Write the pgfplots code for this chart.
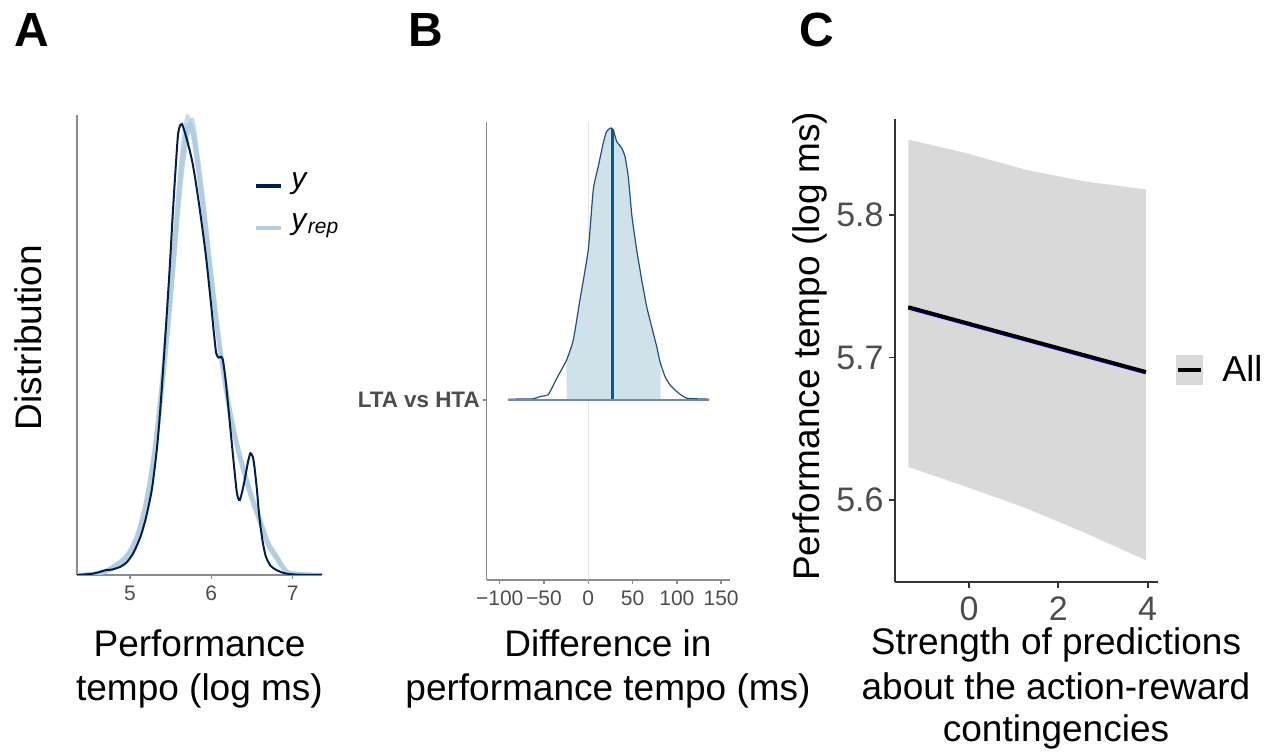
\documentclass[border=0pt]{standalone}
\usepackage{fontspec}
\setmainfont{Liberation Sans}
\usepackage{pgfplots}
\usepackage{pgfplotstable}
\pgfplotsset{compat=1.18}
\definecolor{ydark}{HTML}{011F4B}
\definecolor{yrepc}{HTML}{B3CDE0}
\definecolor{tickgrey}{HTML}{4D4D4D}
\definecolor{axgrey}{HTML}{8C8C8C}
\definecolor{areafill}{HTML}{CFE2EA}
\definecolor{arealine}{HTML}{234F7D}
\definecolor{medline}{HTML}{005B96}
\definecolor{baseln}{HTML}{7388A3}
\definecolor{bandgrey}{HTML}{D9D9D9}
\definecolor{vlinegrey}{HTML}{E6E6E6}
\definecolor{axdark}{HTML}{333333}

\pgfplotstableread{
x y
4.35 0
4.55 0.003
4.65 0.008
4.71 0.011
4.78 0.012
4.88 0.018
4.96 0.028
5.03 0.045
5.08 0.063
5.14 0.09
5.20 0.129
5.27 0.19
5.33 0.277
5.37 0.36
5.41 0.462
5.45 0.57
5.49 0.684
5.52 0.78
5.55 0.869
5.59 0.975
5.62 0.998
5.64 1.0
5.66 0.99
5.69 0.972
5.73 0.945
5.77 0.913
5.81 0.87
5.86 0.809
5.90 0.755
5.94 0.698
6.00 0.595
6.03 0.54
6.06 0.492
6.09 0.482
6.12 0.484
6.14 0.478
6.16 0.455
6.18 0.425
6.21 0.37
6.24 0.314
6.28 0.24
6.31 0.188
6.33 0.17
6.35 0.166
6.38 0.185
6.41 0.211
6.45 0.25
6.48 0.27
6.51 0.262
6.53 0.24
6.56 0.19
6.59 0.129
6.63 0.075
6.67 0.041
6.73 0.02
6.80 0.011
6.88 0.005
6.96 0.002
7.10 0.0005
7.36 0
}\ydens

\pgfplotstableread{
x y
4.35 0
4.55 0.002
4.70 0.008
4.80 0.018
4.90 0.030
5.00 0.050
5.10 0.090
5.20 0.160
5.30 0.270
5.40 0.430
5.50 0.620
5.60 0.840
5.65 0.930
5.70 0.985
5.73 1.000
5.76 0.990
5.80 0.955
5.90 0.820
6.00 0.660
6.10 0.510
6.20 0.390
6.30 0.300
6.40 0.230
6.50 0.170
6.60 0.120
6.70 0.068
6.80 0.040
6.90 0.012
7.00 0.003
7.36 0
}\yrepa

\pgfplotstableread{
x y
4.35 0
4.55 0.003
4.70 0.010
4.80 0.021
4.90 0.034
5.00 0.056
5.10 0.098
5.20 0.170
5.30 0.285
5.40 0.450
5.50 0.650
5.60 0.870
5.65 0.960
5.70 1.015
5.73 1.010
5.76 0.985
5.80 0.940
5.90 0.800
6.00 0.645
6.10 0.500
6.20 0.385
6.30 0.292
6.40 0.222
6.50 0.162
6.60 0.112
6.70 0.062
6.80 0.034
6.90 0.010
7.00 0.002
7.36 0
}\yrepb

\pgfplotstableread{
x y
4.35 0
4.55 0.001
4.70 0.006
4.80 0.015
4.90 0.026
5.00 0.045
5.10 0.082
5.20 0.150
5.30 0.255
5.40 0.410
5.50 0.595
5.60 0.810
5.65 0.900
5.70 0.960
5.76 1.010
5.80 0.980
5.90 0.840
6.00 0.675
6.10 0.525
6.20 0.400
6.30 0.308
6.40 0.238
6.50 0.178
6.60 0.126
6.70 0.074
6.80 0.045
6.90 0.015
7.00 0.004
7.36 0
}\yrepc

\pgfplotstableread{
x y
-90.3 1.0025
-62.1 1.0037
-54.5 1.0123
-45.1 1.0196
-35.7 1.0784
-24.4 1.1471
-16.9 1.2206
-9.4 1.3676
0 1.5515
5.6 1.772
11.3 1.858
16.9 1.9436
20.7 1.9865
25.3 1.9988
28.2 1.9926
32 1.9498
37.7 1.9252
41.4 1.8946
45.1 1.821
48.9 1.6863
50.8 1.6372
54.6 1.5515
60.3 1.4412
65.9 1.3431
71.5 1.2696
77.2 1.1961
80.9 1.1409
86.6 1.0858
92.2 1.0551
99.8 1.0306
111 1.0061
136.6 1.0025
}\areadens

\pgfplotsset{
  panel/.style={scale only axis, anchor=south west,
    axis x line*=bottom, axis y line*=left, axis line style={-},
    tick align=outside,
    /pgf/number format/assume math mode=true},
}

\begin{document}
\begin{tikzpicture}[x=1pt,y=1pt]
\useasboundingbox (0pt,0pt) rectangle (637pt,376.5pt);

% ---------- Panel A ----------
\begin{axis}[panel, at={(38.5pt,89pt)}, width=122.5pt, height=230pt,
  xmin=4.35, xmax=7.36, ymin=0, ymax=1.02,
  xtick={5,6,7}, xticklabels={5,6,7}, ytick=\empty,
  axis line style={axgrey, line width=0.7pt},
  major tick style={axgrey, line width=0.7pt}, major tick length=2pt,
  xticklabel style={font=\fontsize{10.5}{12}\selectfont, text=tickgrey}]
\addplot[yrepc, line width=1.6pt, opacity=0.75, smooth, tension=0.5] table {\yrepb};
\addplot[yrepc, line width=1.6pt, opacity=0.75, smooth, tension=0.5] table {\yrepc};
\addplot[yrepc, line width=2.2pt, smooth, tension=0.5] table {\yrepa};
\addplot[ydark, line width=1pt, smooth, tension=0.4] table {\ydens};
\end{axis}

% ---------- Panel B ----------
\begin{axis}[panel, at={(243.35pt,86.5pt)}, width=121.65pt, height=229.15pt,
  xmin=-114.7, xmax=160, ymin=0.338, ymax=2.022,
  xtick={-100,-50,0,50,100,150},
  xticklabels={−100,−50,0,50,100,150},
  ytick={1}, yticklabels={\textbf{LTA vs HTA}},
  axis line style={axgrey, line width=0.7pt},
  major tick style={axgrey, line width=0.7pt}, major tick length=2pt,
  xticklabel style={font=\fontsize{10.5}{12}\selectfont, text=tickgrey},
  yticklabel style={font=\fontsize{11.2}{13}\selectfont, text=tickgrey, inner sep=1.3pt}]
\addplot[vlinegrey, line width=0.6pt] coordinates {(0,0.338) (0,2.022)};
\addplot[fill=areafill, draw=none, smooth, tension=0.3] coordinates {(-24.4,1) (-24.4,1.1471) (-16.9,1.2206) (-9.4,1.3676) (0,1.5515) (5.6,1.772) (11.3,1.858) (16.9,1.9436) (20.7,1.9865) (25.3,1.9988) (28.2,1.9926) (32,1.9498) (37.7,1.9252) (41.4,1.8946) (45.1,1.821) (48.9,1.6863) (50.8,1.6372) (54.6,1.5515) (60.3,1.4412) (65.9,1.3431) (71.5,1.2696) (77.2,1.1961) (80.9,1.1409) (81.7,1.133) (81.7,1)} -- cycle;
\addplot[medline, line width=1.2pt] coordinates {(27.5,1) (27.5,1.994)};
\addplot[arealine, line width=0.6pt, smooth, tension=0.3] table {\areadens};
\addplot[baseln, line width=0.8pt] coordinates {(-90.3,1) (136.6,1)};
\end{axis}

% ---------- Panel C ----------
\begin{axis}[panel, at={(447.5pt,85.65pt)}, width=131.35pt, height=231.35pt,
  xmin=-1.657, xmax=4.224, ymin=5.5427, ymax=5.8674,
  xtick={0,2,4}, xticklabels={0,2,4},
  ytick={5.6,5.7,5.8}, yticklabels={5.6,5.7,5.8},
  axis line style={axdark, line width=0.9pt},
  major tick style={axdark, line width=0.9pt}, major tick length=3pt,
  xticklabel style={font=\fontsize{17}{20}\selectfont, text=tickgrey, inner sep=2.5pt, yshift=-2pt},
  yticklabel style={font=\fontsize{17}{20}\selectfont, text=tickgrey, inner sep=2.5pt}]
\addplot[fill=bandgrey, draw=none] coordinates {(-1.359,5.853) (-0.05,5.8433) (1.29,5.8316) (2.63,5.8234) (3.96,5.818) (3.96,5.5578) (2.63,5.5765) (1.29,5.5941) (-0.05,5.6092) (-1.359,5.6232)} -- cycle;
\addplot[blue!70!black, line width=1.8pt, yshift=-0.4pt] coordinates {(-1.359,5.7355) (3.96,5.690)};
\addplot[black, line width=1.7pt] coordinates {(-1.359,5.7355) (3.96,5.690)};
\end{axis}

% ---------- Panel letters ----------
\node[anchor=base west, inner sep=0pt, font=\fontsize{24}{28}\selectfont\bfseries] at (7pt,353pt) {A};
\node[anchor=base west, inner sep=0pt, font=\fontsize{24}{28}\selectfont\bfseries] at (204pt,353pt) {B};
\node[anchor=base west, inner sep=0pt, font=\fontsize{24}{28}\selectfont\bfseries] at (399.5pt,353pt) {C};

% ---------- Axis titles ----------
\node[rotate=90, anchor=base, inner sep=0pt, font=\fontsize{18.5}{22}\selectfont] at (21pt,207.75pt) {Distribution};
\node[anchor=base, inner sep=0pt, font=\fontsize{18.5}{22}\selectfont] at (99.75pt,48pt) {Performance};
\node[anchor=base, inner sep=0pt, font=\fontsize{18.5}{22}\selectfont] at (99.75pt,26pt) {tempo (log ms)};
\node[anchor=base, inner sep=0pt, font=\fontsize{18.5}{22}\selectfont] at (304pt,48pt) {Difference in};
\node[anchor=base, inner sep=0pt, font=\fontsize{18.5}{22}\selectfont] at (304pt,26pt) {performance tempo (ms)};
\node[rotate=90, anchor=base, inner sep=0pt, font=\fontsize{18.5}{22}\selectfont] at (409.5pt,203.25pt) {Performance tempo (log ms)};
\node[anchor=base, inner sep=0pt, font=\fontsize{18.5}{22}\selectfont] at (528pt,49pt) {Strength of predictions};
\node[anchor=base, inner sep=0pt, font=\fontsize{18.5}{22}\selectfont] at (528pt,26.5pt) {about the action-reward};
\node[anchor=base, inner sep=0pt, font=\fontsize{18.5}{22}\selectfont] at (528pt,5.5pt) {contingencies};

% ---------- Legend A ----------
\draw[ydark, line width=2.2pt] (128pt,283.5pt) -- (140.5pt,283.5pt);
\node[anchor=west, inner sep=0pt, font=\fontsize{15}{18}\selectfont] at (145.5pt,284.5pt) {\textit{y}};
\draw[yrepc, line width=2.2pt] (128pt,262.5pt) -- (140.5pt,262.5pt);
\node[anchor=west, inner sep=0pt, font=\fontsize{15}{18}\selectfont] at (145.5pt,263.5pt) {\textit{y}\textsubscript{\textit{rep}}};

% ---------- Legend C ----------
\fill[bandgrey] (588pt,184pt) rectangle (601.5pt,199pt);
\draw[black, line width=2pt] (589pt,191.5pt) -- (600.5pt,191.5pt);
\node[anchor=base west, inner sep=0pt, font=\fontsize{18}{22}\selectfont] at (611pt,185.5pt) {All};
\end{tikzpicture}
\end{document}
